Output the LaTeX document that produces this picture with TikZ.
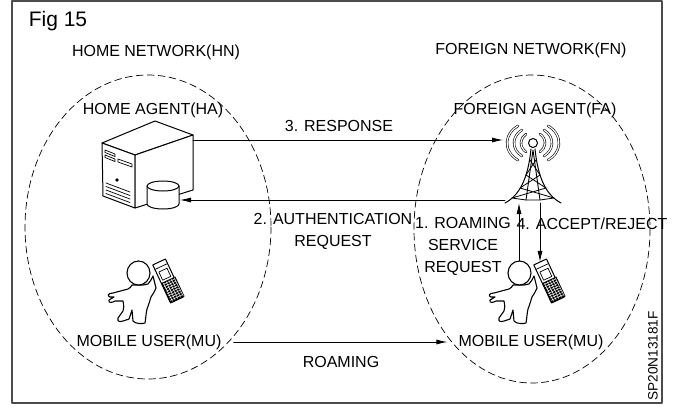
\documentclass[tikz,border=0pt]{standalone}
\usepackage{fontspec}
\setmainfont{Liberation Sans}
\usetikzlibrary{arrows.meta}

\tikzset{
  lbl/.style={font=\fontsize{16}{22}\selectfont, inner sep=0pt, align=center},
  net/.style={dash pattern=on 7pt off 4pt, line width=0.7pt},
  msg/.style={-{Latex[length=11pt,width=5pt]}, line width=0.8pt},
  waves/.style={double, double distance=1.2pt, line width=0.6pt},
  mobileuser/.pic={
    % body with the pointing arm and the raised hand
    \draw[fill=white, line width=1.1pt] (-6,12) .. controls (-7,14) and (-8,15) .. (-10,16)
      -- (-25,20) .. controls (-30,20) and (-31,23) .. (-28,24)
      -- (-24,24) -- (-29,27) .. controls (-30,30) and (-26,30) .. (-23,28)
      -- (-15,28) .. controls (-14,33) and (-14,35) .. (-15,38)
      -- (-20,45) .. controls (-21,49) and (-18,49) .. (-15,48)
      -- (-9,46) -- (-6,37) -- (-5,48) .. controls (-3,51) and (5,51) .. (7,50)
      .. controls (8,44) and (8,40) .. (9,36)
      .. controls (11,31) and (12,27) .. (13,24)
      .. controls (15,21) and (17,18) .. (18,15)
      -- (15,3) .. controls (13,7) and (12,9) .. (10,11)
      -- (5,12) -- cycle;
    % head
    \draw[fill=white, line width=1.1pt] (0.5,0) ellipse (11.5 and 12);
    \coordinate (-top) at (0,-12);
    % phone held to the ear, keypad in the lower half
    \begin{scope}[shift={(30,8)}, rotate=25]
      \draw[fill=white, line width=1pt] (-7,-21) rectangle (7,21);
      \draw[line width=0.7pt] (-7,-16) -- (7,-16);
      \draw[line width=0.7pt] (-4.5,-12) rectangle (4.5,-3);
      \fill (-7,-1) rectangle (8.5,21);
      \foreach \k in {1,3.5,...,20}
        \draw[white, line width=0.5pt] (-6,\k) -- (7,\k);
      \foreach \k in {-5,-2,...,7}
        \draw[white, line width=0.5pt] (\k,0) -- (\k+0.5,20);
      \coordinate (-phone) at (0,-21);
    \end{scope}
  }
}

\begin{document}
\begin{tikzpicture}[x=1pt, y=-1pt, line join=round, line cap=round]
  \useasboundingbox (0,0) rectangle (677,407);
  \draw[gray!60!black, line width=1.3pt] (12,1) rectangle (662,403);

  % the two networks
  \draw[net] (148,227) ellipse (123 and 152);
  \draw[net] (532,229) ellipse (118 and 154);

  % home agent: server with its database
  \draw[fill=white, line width=1pt] (102,143) -- (155,121) -- (193,135) -- (135,155) -- cycle;
  \draw[fill=white, line width=1pt] (102,143) -- (135,155) -- (135,208) -- (103,196) -- cycle;
  \draw[fill=white, line width=1pt] (135,155) -- (193,135) -- (193,190) -- (135,208) -- cycle;
  \foreach \d in {0,5} {
    \draw[line width=0.7pt] (105,150+\d) -- (115,154+\d) -- (115,156.5+\d) -- (105,152.5+\d) -- cycle;
  }
  \draw[line width=0.7pt] (118,159) -- (132,164) -- (132,167) -- (118,162) -- cycle;
  \fill (117,180) circle (1.8);
  \foreach \d in {0,3.5,7,10.5}
    \draw[line width=0.7pt] (106,183+\d) -- (130,192+\d);
  \draw[fill=white, line width=1pt] (147,186) -- (147,204) arc (180:0:16 and 5) -- (179,186);
  \draw[fill=white, line width=1pt] (163,186) ellipse (16 and 5);
  \coordinate (ha-out) at (193,140);
  \coordinate (ha-in) at (180,200);

  % foreign agent: radio tower
  \foreach \rx/\ry in {12/11,19/16,26/21} {
    \draw[waves] (533,143) ++(125:{\rx} and {\ry}) arc (125:235:{\rx} and {\ry});
    \draw[waves] (533,143) ++(-55:{\rx} and {\ry}) arc (-55:55:{\rx} and {\ry});
  }
  \draw[line width=1pt] (531,149) .. controls (528,178) and (520,195) .. (505,203);
  \draw[line width=1pt] (535,149) .. controls (538,178) and (546,195) .. (561,203);
  \draw[line width=0.9pt] (533,150) -- (526,200) (533,150) -- (540,200);
  \draw[line width=0.8pt] (530,160) -- (540,175) (536,160) -- (526,175)
    (526,175) -- (546,188) (540,175) -- (520,188)
    (520,188) -- (554,198) (546,188) -- (512,198)
    (512,198) -- (526,200) -- (540,200) -- (554,198);
  \draw[fill=white, line width=1pt] (533,143) circle (4.5);
  \coordinate (fa-in) at (503,140);
  \coordinate (fa-out) at (505,200);
  \coordinate (fa-up) at (519,203);
  \coordinate (fa-down) at (540,203);

  % mobile users, before and after roaming
  \pic (mul) at (138,273) {mobileuser};
  \pic (mur) at (519,273) {mobileuser};

  \path
    (58,21) node[lbl, font=\fontsize{21}{24}\selectfont] (fig) {Fig 15}
    (156,52) node[lbl] (hn) {HOME NETWORK(HN)}
    (531,50) node[lbl] (fn) {FOREIGN NETWORK(FN)}
    (153,110) node[lbl] (ha) {HOME AGENT(HA)}
    (535,110) node[lbl] (fa) {FOREIGN AGENT(FA)}
    (339,126) node[lbl] (resp) {3. RESPONSE}
    (333,231) node[lbl] (auth) {2. AUTHENTICATION\\REQUEST}
    (463,246) node[lbl] (req) {1. ROAMING\\SERVICE\\REQUEST}
    (592,224) node[lbl] (acc) {4. ACCEPT/REJECT}
    (149,342) node[lbl] (mul-name) {MOBILE USER(MU)}
    (531,342) node[lbl] (mur-name) {MOBILE USER(MU)}
    (341,362) node[lbl] (roam) {ROAMING}
    (653,356) node[lbl, font=\fontsize{13.6}{15}\selectfont, rotate=90] (code) {SP20N13181F}
    ;

  % messages
  \draw[msg] (ha-out) -- (fa-in);
  \draw[msg] (fa-out) -- (ha-in);
  \draw[msg] (mur-top) -- (fa-up);
  \draw[msg] (fa-down) -- (fa-down |- mur-phone);
  \draw[msg, shorten <=12pt, shorten >=11pt] (mul-name) -- (mur-name);
\end{tikzpicture}
\end{document}
